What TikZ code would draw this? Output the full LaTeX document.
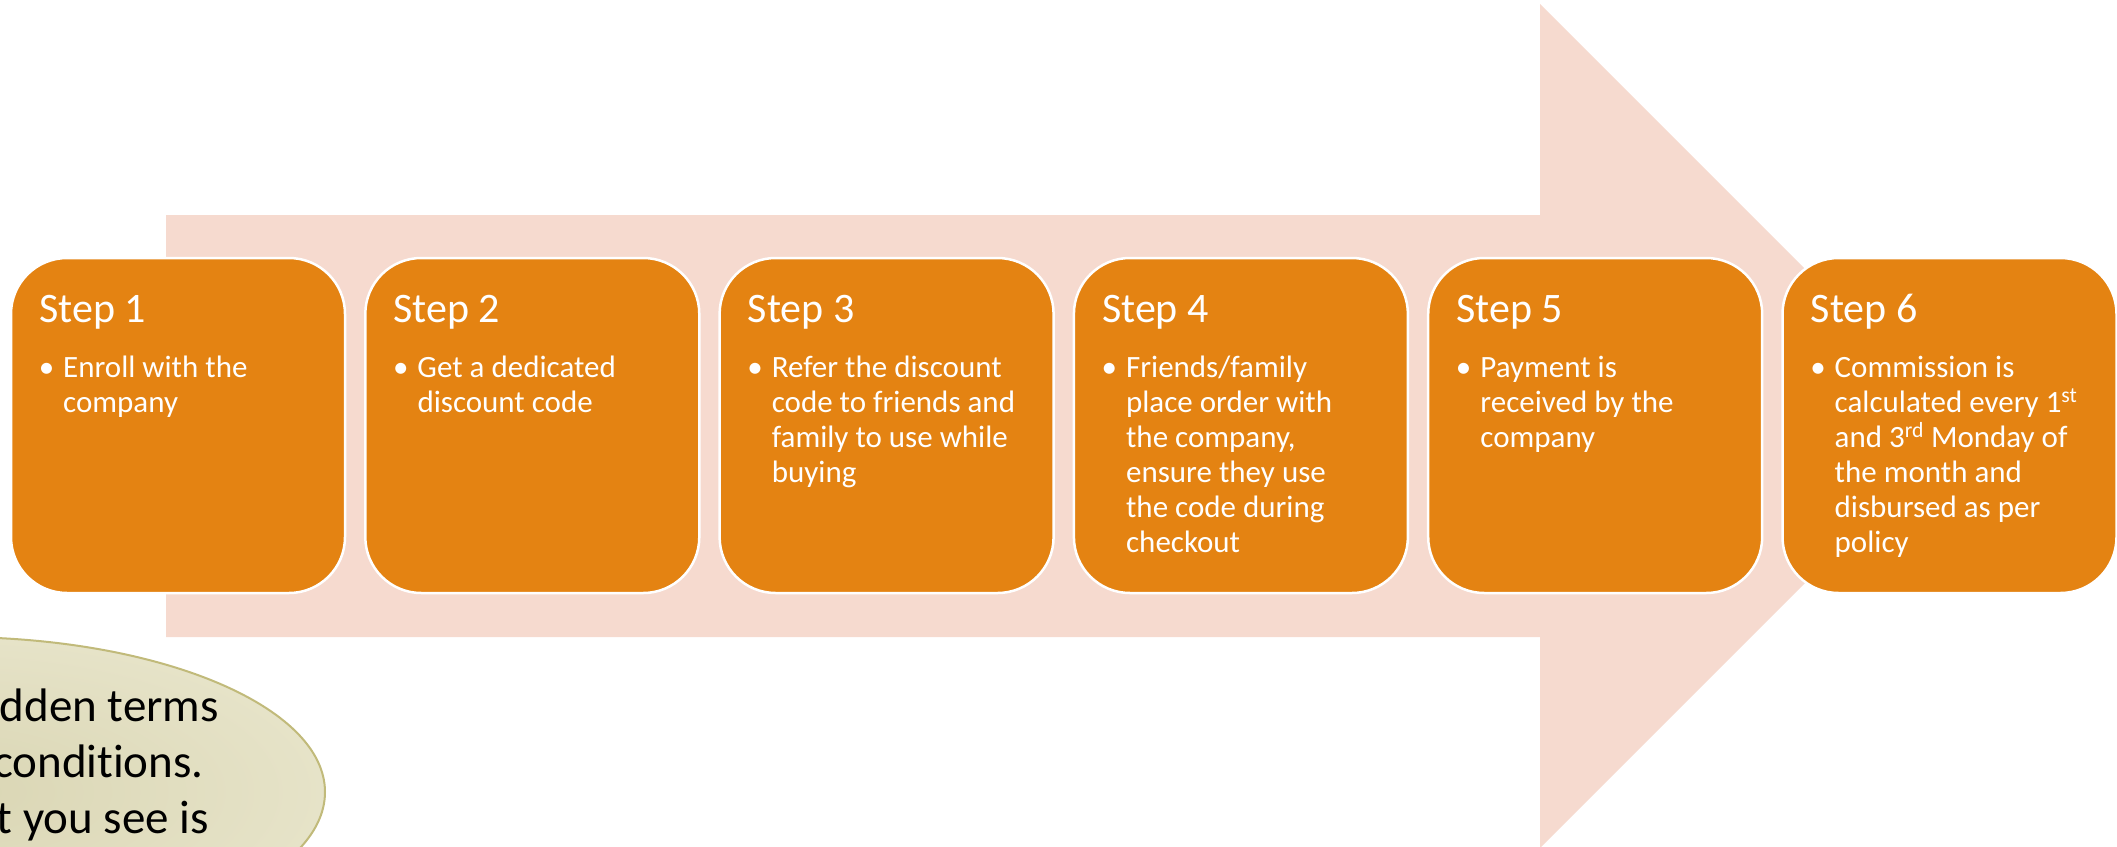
\documentclass[tikz,border=0pt]{standalone}
\usepackage{fontspec}
\setmainfont{Carlito}[Ligatures=NoCommon]
\definecolor{arrowpink}{RGB}{246,218,207}
\definecolor{boxorange}{RGB}{228,131,18}
\definecolor{ovalin}{RGB}{218,214,180}
\definecolor{ovalout}{RGB}{230,227,200}
\definecolor{ovalline}{RGB}{193,186,122}
\tikzset{
  stepbox/.style={draw=white, line width=2.5pt, fill=boxorange, rounded corners=56pt,
    minimum width=334pt, minimum height=335pt, inner sep=0pt},
  steptitle/.style={text=white, anchor=base west, inner sep=0pt, font=\fontsize{42}{48}\selectfont},
  stepbody/.style={text=white, anchor=base west, inner sep=0pt, font=\fontsize{31}{35}\selectfont},
  ovaltext/.style={text=black, anchor=base east, inner sep=0pt, font=\fontsize{47}{56}\selectfont}
}
\newcommand{\bodytxt}[1]{\parbox[t]{280pt}{\raggedright\leavevmode\llap{\textbullet\hspace{9pt}}#1}}
\begin{document}
\begin{tikzpicture}[x=1pt,y=-1pt]
\useasboundingbox (0,0) rectangle (2117,846);
\clip (0,0) rectangle (2117,846);
% big arrow
\fill[arrowpink] (166,215) -- (1540,215) -- (1540,4) -- (1962,426) -- (1540,848) -- (1540,637) -- (166,637) -- cycle;
% oval
\path[inner color=ovalin, outer color=ovalout, draw=ovalline, line width=2pt] (-45,792) ellipse [x radius=370, y radius=155];
\node[ovaltext] (o1) at (219,721) {dden terms};
\node[ovaltext] (o2) at (204,777) {conditions.};
\node[ovaltext] (o3) at (209,833) {t you see is};
% step boxes
\node[stepbox] (s1) at (178,425.5) {};
\node[stepbox] (s2) at (532.3,425.5) {};
\node[stepbox] (s3) at (886.6,425.5) {};
\node[stepbox] (s4) at (1240.9,425.5) {};
\node[stepbox] (s5) at (1595.2,425.5) {};
\node[stepbox] (s6) at (1949.5,425.5) {};
% titles
\node[steptitle] (t1) at (39,322) {Step 1};
\node[steptitle] (t2) at (393.3,322) {Step 2};
\node[steptitle] (t3) at (747.6,322) {Step 3};
\node[steptitle] (t4) at (1101.9,322) {Step 4};
\node[steptitle] (t5) at (1456.2,322) {Step 5};
\node[steptitle] (t6) at (1810.5,322) {Step 6};
% bodies
\node[stepbody] (b1) at (63,377) {\bodytxt{Enroll with the\\company}};
\node[stepbody] (b2) at (417.3,377) {\bodytxt{Get a dedicated\\discount code}};
\node[stepbody] (b3) at (771.6,377) {\bodytxt{Refer the discount\\code to friends and\\family to use while\\buying}};
\node[stepbody] (b4) at (1125.9,377) {\bodytxt{Friends/family\\place order with\\the company,\\ensure they use\\the code during\\checkout}};
\node[stepbody] (b5) at (1480.2,377) {\bodytxt{Payment is\\received by the\\company}};
\node[stepbody] (b6) at (1834.5,377) {\bodytxt{Commission is\\calculated every 1\textsuperscript{st}\\and 3\textsuperscript{rd} Monday of\\the month and\\disbursed as per\\policy}};
\end{tikzpicture}
\end{document}
